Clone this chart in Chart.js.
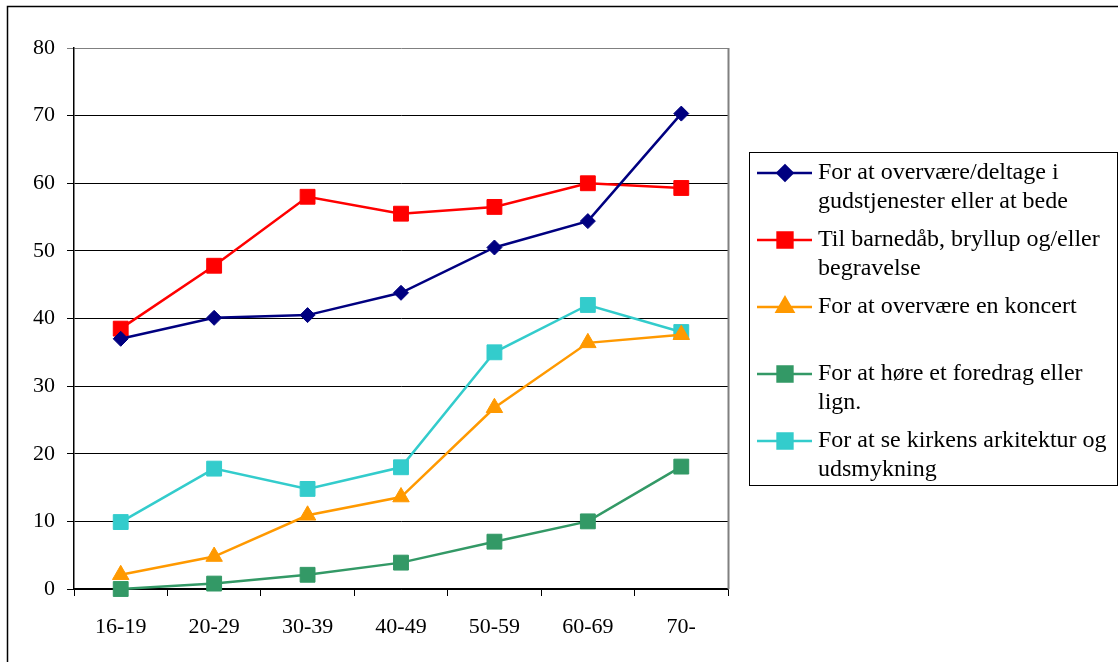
<!DOCTYPE html>
<html>
<head>
<meta charset="utf-8">
<script src="https://cdn.jsdelivr.net/npm/chart.js@4/dist/chart.umd.min.js"></script>
<style>
  html, body { margin: 0; padding: 0; background: #fff; }
  #wrap { width: 1118px; height: 662px; position: relative; }
</style>
</head>
<body>
<div id="wrap"><canvas id="chart" width="1118" height="662"></canvas></div>
<script>
const ageGroups = ['16-19', '20-29', '30-39', '40-49', '50-59', '60-69', '70-'];

const gudstjeneste = [37.0, 40.1, 40.5, 43.8, 50.5, 54.4, 70.3];
const barnedaab = [38.5, 47.8, 58.0, 55.5, 56.5, 60.0, 59.3];
const koncert = [2.1, 4.8, 10.9, 13.6, 26.8, 36.4, 37.6];
const foredrag = [0.0, 0.8, 2.1, 3.9, 7.0, 10.0, 18.1];
const arkitektur = [9.9, 17.8, 14.8, 18.0, 35.0, 42.0, 38.0];

const legendLines = [
  ['For at overvære/deltage i', 'gudstjenester eller at bede'],
  ['Til barnedåb, bryllup og/eller', 'begravelse'],
  ['For at overvære en koncert'],
  ['For at høre et foredrag eller', 'lign.'],
  ['For at se kirkens arkitektur og', 'udsmykning']
];

const yTicks = [0, 10, 20, 30, 40, 50, 60, 70, 80];

const FONT = '"Liberation Serif", "Times New Roman", serif';

function series(label, data, color, style, radius) {
  return {
    label: label,
    data: data,
    borderColor: color,
    backgroundColor: color,
    pointBackgroundColor: color,
    pointBorderColor: color,
    pointStyle: style,
    pointRadius: radius,
    pointHoverRadius: radius,
    pointBorderWidth: 1,
    borderWidth: 2.5,
    tension: 0,
    clip: false
  };
}

// outer frame + right plot border
const framePlugin = {
  id: 'frame',
  afterDraw(chart) {
    const c = chart.ctx;
    const a = chart.chartArea;
    c.save();
    c.strokeStyle = '#808080';
    c.lineWidth = 2;
    c.beginPath();
    c.moveTo(Math.round(a.right) + 0.5, a.top);
    c.lineTo(Math.round(a.right) + 0.5, a.bottom);
    c.stroke();
    c.strokeStyle = '#000';
    c.lineWidth = 1.5;
    c.beginPath();
    c.moveTo(7.5, 662);
    c.lineTo(7.5, 6.5);
    c.lineTo(1118, 6.5);
    c.stroke();
    c.restore();
  }
};

// legend box with wrapped labels
const boxLegend = {
  id: 'boxLegend',
  afterDraw(chart) {
    const c = chart.ctx;
    c.save();
    c.strokeStyle = '#000';
    c.lineWidth = 1;
    c.strokeRect(749.5, 152.5, 368, 333);
    c.font = '24px ' + FONT;
    c.textBaseline = 'middle';
    c.fillStyle = '#000';
    chart.data.datasets.forEach((ds, i) => {
      const y0 = 173 + i * 67;
      c.strokeStyle = ds.borderColor;
      c.lineWidth = 2.5;
      c.beginPath();
      c.moveTo(757, y0);
      c.lineTo(812, y0);
      c.stroke();
      Chart.helpers.drawPoint(c, {
        pointStyle: ds.pointStyle,
        radius: ds.pointRadius,
        borderWidth: 1
      }, 785, y0);
      c.fillStyle = ds.borderColor;
      c.fill();
      c.fillStyle = '#000';
      legendLines[i].forEach((t, j) => c.fillText(t, 818, y0 + j * 29));
    });
    c.restore();
  }
};

new Chart(document.getElementById('chart'), {
  type: 'line',
  data: {
    labels: ageGroups,
    datasets: [
      series(legendLines[0].join(' '), gudstjeneste, '#000080', 'rectRot', 7.5),
      series(legendLines[1].join(' '), barnedaab, '#FF0000', 'rect', 10.5),
      series(legendLines[2].join(' '), koncert, '#FF9900', 'triangle', 9.5),
      series(legendLines[3].join(' '), foredrag, '#339966', 'rect', 10.5),
      series(legendLines[4].join(' '), arkitektur, '#33CCCC', 'rect', 10.5)
    ]
  },
  options: {
    responsive: false,
    animation: false,
    layout: { padding: { left: 0, top: 48, right: 390, bottom: 0 } },
    plugins: {
      legend: { display: false },
      tooltip: { enabled: false }
    },
    scales: {
      x: {
        offset: true,
        grid: { offset: true, drawOnChartArea: false, drawTicks: true, tickLength: 7, color: '#000' },
        border: { color: '#000', width: 1.5 },
        ticks: { color: '#000', font: { family: FONT, size: 22 }, padding: 18, maxRotation: 0 },
        afterFit(s) { s.height = 73; }
      },
      y: {
        min: 0,
        max: 80,
        afterBuildTicks(s) { s.ticks = yTicks.map(v => ({ value: v })); },
        grid: {
          color: ctx => (ctx.tick && ctx.tick.value === 80) ? '#808080' : '#000',
          lineWidth: 1,
          tickLength: 7
        },
        border: { color: '#000', width: 1.5 },
        ticks: { color: '#000', font: { family: FONT, size: 22 }, padding: 12 },
        afterFit(s) { s.width = 74; }
      }
    }
  },
  plugins: [framePlugin, boxLegend]
});
</script>
</body>
</html>
